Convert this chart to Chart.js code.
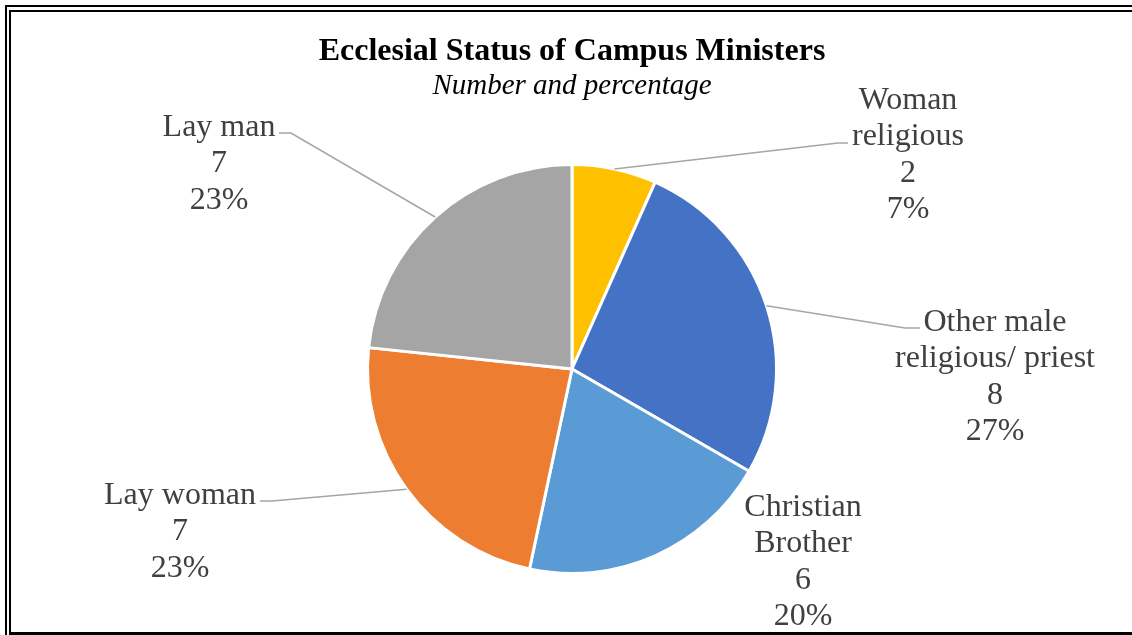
<!DOCTYPE html>
<html>
<head>
<meta charset="utf-8">
<script src="https://cdn.jsdelivr.net/npm/chart.js@4/dist/chart.umd.min.js"></script>
<style>
  html, body { margin: 0; padding: 0; background: #ffffff; }
  #wrap { position: relative; width: 1132px; height: 635px; }
  canvas { display: block; }
</style>
</head>
<body>
<div id="wrap"><canvas id="c" width="1132" height="635"></canvas></div>
<script>
// ---- data ----
const categories = ['Woman religious', 'Other male religious/ priest', 'Christian Brother', 'Lay woman', 'Lay man'];
const counts = [2, 8, 6, 7, 7];
const labelLines = [['Woman', 'religious'], ['Other male', 'religious/ priest'], ['Christian', 'Brother'], ['Lay woman'], ['Lay man']];
const sliceColors = ['#FFC000', '#4472C4', '#5B9BD5', '#ED7D31', '#A5A5A5'];
const chartTitle = 'Ecclesial Status of Campus Ministers';
const chartSubtitle = 'Number and percentage';

// ---- label layout (relative to pie centre, px) ----
const labelPos = [
  { x: 336, y: -268.5 },
  { x: 423, y: -46.5 },
  { x: 231, y: 138.5 },
  { x: -392, y: 126.5 },
  { x: -353, y: -241.5 }
];
// leader lines: elbow and end relative to pie centre (null = none)
const leaders = [
  { elbow: { x: 266, y: -226 }, end: { x: 276, y: -226 } },
  { elbow: { x: 333, y: -41 }, end: { x: 348, y: -41 } },
  null,
  { elbow: { x: -300, y: 132 }, end: { x: -312, y: 132 } },
  { elbow: { x: -281, y: -236 }, end: { x: -293, y: -236 } }
];

const total = counts.reduce((a, b) => a + b, 0);

const decorPlugin = {
  id: 'decor',
  beforeDraw(chart) {
    const ctx = chart.ctx;
    ctx.save();
    ctx.fillStyle = '#ffffff';
    ctx.fillRect(0, 0, chart.width, chart.height);
    ctx.fillStyle = '#000000';
    // double frame (top & left), single bottom line
    ctx.fillRect(5, 5, chart.width - 5, 2);
    ctx.fillRect(10, 10, chart.width - 10, 2);
    ctx.fillRect(5, 5, 2, chart.height - 5);
    ctx.fillRect(9, 10, 2, chart.height - 10);
    ctx.fillRect(9, 632, chart.width - 9, 3);
    ctx.restore();
  },
  afterDraw(chart) {
    const ctx = chart.ctx;
    const meta = chart.getDatasetMeta(0);
    const cx = meta.data[0].x, cy = meta.data[0].y;
    ctx.save();
    // title
    ctx.textAlign = 'center';
    ctx.textBaseline = 'middle';
    ctx.fillStyle = '#000000';
    ctx.font = 'bold 32px "Liberation Serif", "Times New Roman", serif';
    ctx.fillText(chartTitle, 572, 52);
    ctx.font = 'italic 29px "Liberation Serif", "Times New Roman", serif';
    ctx.fillText(chartSubtitle, 572, 86);

    // leader lines
    ctx.strokeStyle = '#A6A6A6';
    ctx.lineWidth = 1.6;
    meta.data.forEach((arc, i) => {
      const ld = leaders[i];
      if (!ld) return;
      const mid = (arc.startAngle + arc.endAngle) / 2;
      const r = arc.outerRadius;
      ctx.beginPath();
      ctx.moveTo(arc.x + Math.cos(mid) * r, arc.y + Math.sin(mid) * r);
      ctx.lineTo(cx + ld.elbow.x, cy + ld.elbow.y);
      ctx.lineTo(cx + ld.end.x, cy + ld.end.y);
      ctx.stroke();
    });

    // data labels
    ctx.fillStyle = '#404040';
    ctx.font = '32px "Liberation Serif", "Times New Roman", serif';
    const lh = 36.5;
    counts.forEach((v, i) => {
      const lines = labelLines[i].concat([String(v), Math.round(v / total * 100) + '%']);
      const px = cx + labelPos[i].x, py = cy + labelPos[i].y;
      lines.forEach((t, k) => ctx.fillText(t, px, py + k * lh));
    });
    ctx.restore();
  }
};

new Chart(document.getElementById('c'), {
  type: 'pie',
  data: {
    labels: categories,
    datasets: [{
      data: counts,
      backgroundColor: sliceColors,
      borderColor: '#ffffff',
      borderWidth: 3
    }]
  },
  options: {
    responsive: false,
    animation: false,
    events: [],
    layout: { padding: { left: 366, right: 354, top: 163, bottom: 60 } },
    plugins: {
      legend: { display: false },
      title: { display: false },
      tooltip: { enabled: false }
    }
  },
  plugins: [decorPlugin]
});
</script>
</body>
</html>
